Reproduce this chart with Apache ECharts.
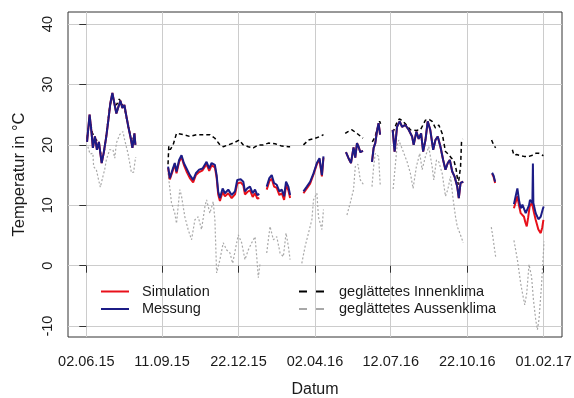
<!DOCTYPE html>
<html>
<head>
<meta charset="utf-8">
<script src="https://cdn.jsdelivr.net/npm/echarts@6/dist/echarts.min.js"></script>
<style>
html,body{margin:0;padding:0;background:#fff;}
#chart{width:574px;height:398px;}
</style>
</head>
<body>
<div id="chart"></div>
<script>
// x values: days since 02.06.2015
const tickDays = [0, 101, 203, 305, 406, 508, 610];
const tickLabels = ['02.06.15', '11.09.15', '22.12.15', '02.04.16', '12.07.16', '22.10.16', '01.02.17'];
const yTicks = [-10, 0, 10, 20, 30, 40];

const messung = [
  [1,20.5],[4.4,25.0],[7.1,21.9],[8.8,19.5],[11.5,21.4],[14.2,19.2],[16.8,20.5],[20.5,17.0],[23.1,18.6],[26.7,21.4],[29.4,24.1],[32.1,26.9],[34.8,28.6],[37.4,26.9],[40.1,25.2],[42.8,26.3],[45.5,27.3],[48.1,26.1],[50.8,26.6],[53.5,24.7],[56.1,23.0],[58.8,21.4],[61.5,19.5],[64.2,21.9],[65.5,20.0],
  [80,null],
  [109.1,16.4],[111.4,14.5],[115,15.9],[118,17.0],[120.3,15.6],[123.8,17.5],[127,18.3],[130.1,17.0],[133.7,16.1],[138.1,15.0],[142.5,14.2],[146.1,15.3],[150.5,15.9],[155.1,16.1],[160.4,17.2],[163.9,16.1],[167.1,17.0],[171.5,16.7],[173.8,15.0],[175.9,12.3],[178.2,11.2],[181.8,12.8],[184.9,12.0],[189.3,12.6],[193.9,11.7],[198.3,12.3],[201.3,14.2],[205.9,14.3],[209.4,13.9],[211.6,12.3],[214.7,12.8],[218.3,13.1],[221.9,12.0],[225,12.6],[228.1,11.7],[230.7,11.9],
  [235,null],
  [240.6,13.1],[244.1,14.5],[247.3,15.0],[250.4,13.7],[254,13.4],[257.5,12.3],[260.7,12.6],[263.8,11.5],[266.4,13.9],[269.5,13.1],[271.8,11.7],
  [280,null],
  [289.6,12.3],[294.1,13.1],[298.5,13.9],[303,15.3],[307.5,17.0],[311,17.8],[314.2,15.0],[316.3,18.1],
  [330,null],
  [346.3,18.8],[349.7,17.8],[353,17.0],[356.4,19.6],[358.7,17.9],[361,20.3],[363.1,19.7],[365.4,18.8],[369,19.0],
  [375,null],
  [381,17.2],[383.2,19.5],[385.4,20.3],[387.7,22.3],[389.8,23.6],[391.8,21.7],
  [400,null],
  [408.6,22.5],[411.2,18.9],[414.4,23.0],[417.9,23.9],[421.1,23.0],[425.5,23.3],[429.9,22.5],[434.5,21.4],[436.6,20.0],[440.2,22.2],[443.3,21.0],[446.5,21.9],[449.2,18.9],[452.3,20.8],[455.3,23.9],[458.7,22.5],[462.6,19.2],[465.6,20.8],[468.7,21.4],[472.3,19.7],[475.9,17.5],[479,15.9],[482.1,17.0],[484.8,17.5],[488,15.6],[491,14.8],[494.7,13.1],[496.8,11.2],[499.1,13.7],[502.7,13.9],
  [520,null],
  [541.2,15.4],[543.2,14.9],[545.2,13.9],
  [560,null],
  [570.3,10.2],[572.6,11.5],[574.9,12.8],[577,10.9],[579.3,9.5],[581.6,10.1],[583.7,9.9],[586,8.7],[588.2,8.5],[590.4,10.0],[591.7,10.9],[594.9,10.4],[595.6,16.9],[596.2,10.4],[599.3,8.7],[602.9,7.7],[606,8.1],[609.1,9.5],[610,9.8]
];

const simulation = [
  [1,20.5],[4.4,25.0],[7.1,21.9],[8.8,19.5],[11.5,21.4],[14.2,19.2],[16.8,20.5],[20.5,17.0],[23.1,18.6],[26.7,21.4],[29.4,24.1],[32.1,26.9],[34.8,28.6],[37.4,26.9],[40.1,25.2],[42.8,26.3],[45.5,27.3],[48.1,26.1],[50.8,26.6],[53.5,24.7],[56.1,23.0],[58.8,21.4],[61.5,19.5],[64.2,21.9],[65.5,20.0],
  [80,null],
  [109.1,16.2],[111.4,14.3],[115,15.6],[118,16.8],[120.3,15.3],[123.8,17.2],[127,18.0],[130.1,16.7],[133.7,15.6],[138.1,14.5],[142.5,13.8],[146.1,15.0],[150.5,15.5],[155.1,15.8],[160.4,16.8],[163.9,15.7],[167.1,16.6],[171.5,16.3],[173.8,14.6],[175.9,11.8],[178.2,10.7],[181.8,12.2],[184.9,11.5],[189.3,12.0],[193.9,11.2],[198.3,11.8],[201.3,13.6],[205.9,13.8],[209.4,13.3],[211.6,11.8],[214.7,12.2],[218.3,12.5],[221.9,11.4],[225,12.0],[228.1,11.1],[230.7,11.2],
  [235,null],
  [240.6,12.6],[244.1,14.0],[247.3,14.4],[250.4,13.1],[254,12.9],[257.5,11.7],[260.7,12.0],[263.8,10.9],[266.4,13.3],[269.5,12.5],[271.8,11.2],
  [280,null],
  [289.6,12.0],[294.1,12.8],[298.5,13.6],[303,15.1],[307.5,16.8],[311,17.6],[314.2,14.8],[316.3,17.9],
  [330,null],
  [346.3,18.8],[349.7,17.8],[353,17.0],[356.4,19.6],[358.7,17.9],[361,20.3],[363.1,19.7],[365.4,18.8],[369,19.0],
  [375,null],
  [381,17.2],[383.2,19.5],[385.4,20.3],[387.7,22.3],[389.8,23.6],[391.8,21.7],
  [400,null],
  [408.6,22.5],[411.2,18.9],[414.4,23.0],[417.9,23.9],[421.1,23.0],[425.5,23.3],[429.9,22.5],[434.5,21.4],[436.6,20.0],[440.2,22.2],[443.3,21.0],[446.5,21.9],[449.2,18.9],[452.3,20.8],[455.3,23.9],[458.7,22.5],[462.6,19.2],[465.6,20.8],[468.7,21.4],[472.3,19.7],[475.9,17.5],[479,15.9],[482.1,17.0],[484.8,17.5],[488,15.6],[491,14.8],[494.7,13.1],[496.8,11.2],[499.1,13.7],[502.7,13.9],
  [520,null],
  [541.2,15.2],[543.2,14.7],[545.2,13.7],
  [560,null],
  [570.3,9.5],[572.6,10.5],[574.9,11.5],[577,10.0],[579.3,8.7],[581.6,9.0],[583.7,8.1],[585.5,7.2],[587.4,6.5],[589.3,8.0],[591.2,9.8],[594.3,10.4],[597,8.8],[599.3,7.6],[602.9,6.0],[606,5.4],[608,6.3],[609.6,7.6]
];

const innenklima = [
  [1,21.0],[4.4,24.5],[8,22.0],[12,21.0],[16,20.5],[20.5,17.8],[24,19.0],[28,23.0],[31,26.0],[34.8,28.3],[38,26.5],[41,26.8],[44,27.6],[46,27.5],[49,26.4],[52,25.5],[55,23.5],[58,22.0],[61,20.5],[64,21.5],[65.5,21.0],
  [80,null],
  [109,16.8],[110,19.8],[112,19.2],[115.8,20.0],[120.3,21.9],[122.5,21.9],[129.1,21.7],[138.1,21.4],[147,21.7],[155.9,21.7],[164.8,21.7],[171.5,21.1],[178.2,20.0],[182.6,19.7],[189.3,20.0],[196,20.3],[204,20.8],[209.4,20.0],[216,19.7],[222.7,19.5],[229.4,20.0],[236.1,20.0],[242.8,20.3],[251.7,20.2],[260.7,19.8],[269.5,19.7],[271.8,19.7],
  [280,null],
  [289.6,20.0],[296.3,20.8],[305.2,21.1],[311.9,21.4],[316.3,21.7],
  [330,null],
  [345.3,21.9],[349,22.2],[354.3,22.5],[361,21.9],[369,21.1],
  [375,null],
  [381.4,20.5],[385,21.3],[387.7,22.5],[391.2,23.9],[392.5,23.5],
  [400,null],
  [408.8,22.0],[413.5,23.5],[417.5,24.3],[421.5,24.0],[425.5,23.5],[432.2,22.5],[440.2,22.4],[445.6,22.5],[452.3,24.1],[457.6,24.2],[461.2,23.9],[465.6,22.8],[470.1,23.3],[474.6,21.9],[479,18.9],[483.4,18.4],[487,17.8],[490.1,17.5],[493.3,15.9],[496,13.4],[499.1,16.4],[500.4,20.5],[501.7,21.0],
  [520,null],
  [540.5,20.8],[543.2,20.0],[545.9,19.5],
  [560,null],
  [568.2,19.2],[570.3,18.3],[574,18.4],[577,18.3],[583.7,18.1],[590.4,18.1],[594.9,18.3],[599.3,18.6],[603.7,18.6],[606,18.3],[609.6,18.2]
];

const aussenklima = [
  [2.1,19.7],[5,18.5],[8.8,18.6],[9.8,16.4],[13.4,15.9],[16.4,14.2],[18.7,13.0],[20,12.8],[22.2,14.8],[24.5,15.9],[26.7,17.5],[31.1,19.2],[35.6,19.2],[38,17.8],[40.1,20.3],[44.5,21.7],[48.9,22.2],[51.2,20.8],[55.6,18.6],[57.9,17.0],[60.2,15.4],[63.2,15.5],[64.6,17.0],[65.9,18.0],
  [80,null],
  [109.1,15.3],[113.6,10.4],[118,8.7],[120.3,7.0],[124.7,12.6],[127,11.5],[131.4,8.1],[135.8,6.0],[140.4,4.3],[144.8,7.6],[149.2,8.1],[153.7,6.0],[158.2,9.8],[160.4,10.9],[164.8,8.7],[169.3,10.6],[171.5,7.6],[173.8,-1.2],[178.2,1.0],[182.6,3.8],[187.2,2.6],[191.6,2.1],[195.2,0.4],[199.6,3.2],[202.7,5.1],[207.2,3.8],[211.6,1.0],[216,2.6],[220.6,3.8],[225,4.8],[227.3,1.5],[229.4,-2.0],[231.7,0.4],
  [235,null],
  [240.6,2.1],[245,6.5],[249.5,4.3],[254,4.8],[258.4,2.1],[262.8,1.5],[266.4,5.4],[269.5,3.2],[271.8,1.0],
  [280,null],
  [287.4,0.4],[291.8,3.2],[296.3,5.4],[300.8,7.6],[303,10.9],[307.5,12.0],[309.6,8.1],[314.2,6.0],[316.3,9.3],
  [330,null],
  [347.6,8.4],[352,10.4],[356.4,12.6],[358.7,16.4],[362.3,16.8],[365.4,14.2],[369.8,13.4],
  [375,null],
  [381,13.1],[383.2,16.4],[385.4,18.6],[389.8,18.1],[392.1,13.1],
  [400,null],
  [409.2,12.7],[414.4,19.7],[416.6,20.8],[421.1,19.4],[427.8,17.2],[432.2,15.3],[435.8,12.8],[440.2,16.4],[444.7,18.6],[447.9,15.9],[452.3,18.1],[456.7,19.7],[461.2,16.4],[463.4,14.2],[467,17.5],[470.1,17.2],[474.6,15.3],[479,11.5],[482.1,12.6],[485.7,14.8],[489.3,10.9],[492.4,8.1],[494.7,6.5],[498.1,5.4],[501.3,4.3],[502.7,3.8],
  [520,null],
  [540.1,6.4],[541.8,5.1],[543.6,3.5],[545.9,1.5],
  [560,null],
  [570.3,4.2],[574.9,1.0],[579.3,-2.9],[581.6,-4.5],[584.7,-6.5],[587.4,-4.5],[590.4,0.2],[593.8,-1.8],[596.3,-5.6],[599.3,-8.9],[601.6,-10.6],[603.7,-8.9],[607,-3.4],[609.6,2.1],[610.4,4.0]
];

const FONT = 'Liberation Sans, Arial, sans-serif';
const TXT = '#1a1a1a';
const GRIDC = '#cccccc';
const NOSYM = {color: 'rgba(0,0,0,0)', borderColor: 'rgba(0,0,0,0)', borderWidth: 0, opacity: 0};

const chart = echarts.init(document.getElementById('chart'), null, {renderer: 'canvas'});
chart.setOption({
  animation: false,
  backgroundColor: '#ffffff',
  grid: {left: 68, right: 12, top: 12, bottom: 61, show: true, borderColor: '#333', borderWidth: 1,
         backgroundColor: 'transparent', containLabel: false, outerBoundsMode: 'none'},
  xAxis: {
    type: 'value', min: -24.4, max: 634.4,
    axisLine: {show: false},
    axisTick: {show: true, length: 7, lineStyle: {color: '#333'}, customValues: tickDays},
    axisLabel: {customValues: tickDays, margin: 17, fontSize: 14.5, fontFamily: FONT, color: TXT,
      formatter: function (v) { const i = tickDays.indexOf(v); return i >= 0 ? tickLabels[i] : ''; }},
    splitLine: {show: true, lineStyle: {color: GRIDC, width: 1}},
    name: 'Datum', nameLocation: 'middle', nameGap: 45,
    nameTextStyle: {fontSize: 16, fontFamily: FONT, color: TXT}
  },
  yAxis: {
    type: 'value', min: -11.8, max: 42,
    axisLine: {show: false},
    axisTick: {show: true, length: 7, lineStyle: {color: '#333'}, customValues: yTicks},
    axisLabel: {customValues: yTicks, rotate: 90, margin: 13, fontSize: 14.5, fontFamily: FONT, color: TXT},
    splitLine: {show: true, lineStyle: {color: GRIDC, width: 1}},
    name: 'Temperatur in °C', nameLocation: 'middle', nameGap: 40,
    nameTextStyle: {fontSize: 16.5, fontFamily: FONT, color: TXT}
  },
  legend: [
    {data: ['Simulation', 'Messung'], orient: 'vertical', left: 100, top: 284, padding: 0,
     itemWidth: 28, itemHeight: 14, itemGap: 2.5, itemStyle: NOSYM,
     textStyle: {fontSize: 14.5, fontFamily: FONT, color: TXT, padding: [0, 0, 0, 8]}},
    {data: [{name: 'geglättetes Innenklima', lineStyle: {type: [8, 9]}}, {name: 'geglättetes Aussenklima', lineStyle: {type: [8, 9]}}],
     orient: 'vertical', left: 298, top: 284, padding: 0,
     itemWidth: 25, itemHeight: 14, itemGap: 2.5, itemStyle: NOSYM,
     textStyle: {fontSize: 14.5, fontFamily: FONT, color: TXT, padding: [0, 0, 0, 10]}}
  ],
  series: [
    {name: 'geglättetes Aussenklima', type: 'line', data: aussenklima, symbol: 'none', connectNulls: false,
     lineStyle: {color: '#a8a8a8', width: 1.2, type: [2, 2]}, itemStyle: {color: '#a8a8a8'}, z: 1},
    {name: 'geglättetes Innenklima', type: 'line', data: innenklima, symbol: 'none', connectNulls: false,
     lineStyle: {color: '#000000', width: 1.5, type: [4, 3]}, itemStyle: {color: '#000000'}, z: 2},
    {name: 'Simulation', type: 'line', data: simulation, symbol: 'none', connectNulls: false,
     lineStyle: {color: '#e8101a', width: 2}, itemStyle: {color: '#e8101a'}, z: 3},
    {name: 'Messung', type: 'line', data: messung, symbol: 'none', connectNulls: false,
     lineStyle: {color: '#1c1c86', width: 2}, itemStyle: {color: '#1c1c86'}, z: 4}
  ]
});
</script>
</body>
</html>
